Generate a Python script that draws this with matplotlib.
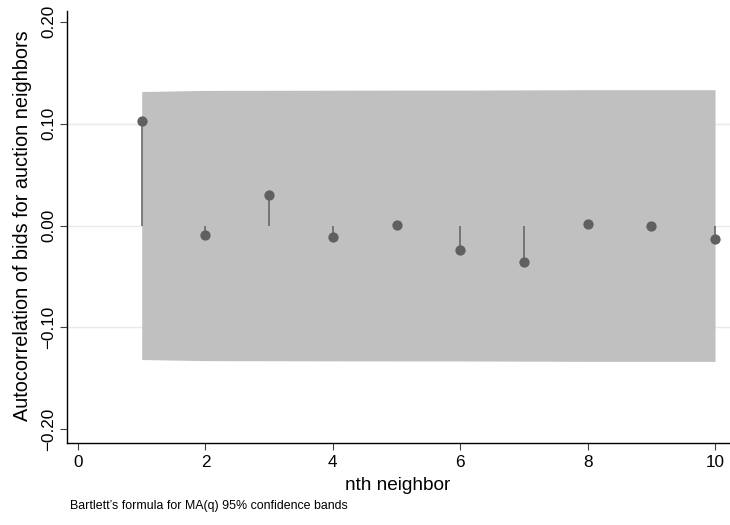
import numpy as np
import matplotlib
matplotlib.use("Agg")
import matplotlib.pyplot as plt

# autocorrelations
lags = [1, 2, 3, 4, 5, 6, 7, 8, 9, 10]
acf = [0.1028, -0.0090, 0.0300, -0.0113, 0.0010, -0.0237, -0.0355, 0.0018, -0.0005, -0.0130]
# Bartlett 95% band (upper half-width)
band = [0.1315, 0.1326, 0.1327, 0.1328, 0.1329, 0.1329, 0.1331, 0.1333, 0.1333, 0.1333]

xticks = [0, 2, 4, 6, 8, 10]
yticks = [-0.20, -0.10, 0.00, 0.10, 0.20]

plt.rcParams['font.family'] = ['Liberation Sans', 'DejaVu Sans']
plt.rcParams['axes.unicode_minus'] = True

fig = plt.figure(figsize=(7.3, 5.25), dpi=100)
ax = fig.add_axes([0.0914, 0.1568, 0.9086, 0.8222])

# grid at interior ticks only
for yv in yticks[1:-1]:
    ax.axhline(yv, color='#eaeaea', lw=1.0, zorder=0)

band = np.array(band)
ax.fill_between(lags, -band, band, color='#c0c0c0', lw=0, zorder=1)

ax.vlines(lags, 0, acf, color='#606060', lw=1.1, zorder=2)
ax.plot(lags, acf, 'o', color='#606060', ms=7.4, mec='none', zorder=3)

ax.set_xlim(-0.177, 10.235)
ax.set_ylim(-0.2131, 0.2105)

ax.set_xticks(xticks)
ax.set_xticklabels([str(v) for v in xticks])
ax.set_yticks(yticks)
ax.set_yticklabels(['\u2212%.2f' % -v if v < 0 else '%.2f' % v for v in yticks],
                   rotation=90, va='center')

ax.spines['top'].set_visible(False)
ax.spines['right'].set_visible(False)
for s in ['left', 'bottom']:
    ax.spines[s].set_linewidth(1.0)
ax.tick_params(axis='both', direction='out', length=5, width=0.8, labelsize=12.3)
ax.tick_params(axis='both', color='#404040')
ax.tick_params(axis='x', pad=4.0)
ax.tick_params(axis='y', pad=2.5)

fig.text(0.5452, 1 - 485 / 525, 'nth neighbor', ha='center', va='center', fontsize=13.7)
fig.text(22.5 / 730, 1 - 226 / 525, 'Autocorrelation of bids for auction neighbors',
         rotation=90, ha='center', va='center', fontsize=14.3)
fig.text(69.5 / 730, 1 - 506 / 525, "Bartlett\u2019s formula for MA(q) 95% confidence bands",
         ha='left', va='center', fontsize=8.9)

fig.savefig('out.png', dpi=100)
